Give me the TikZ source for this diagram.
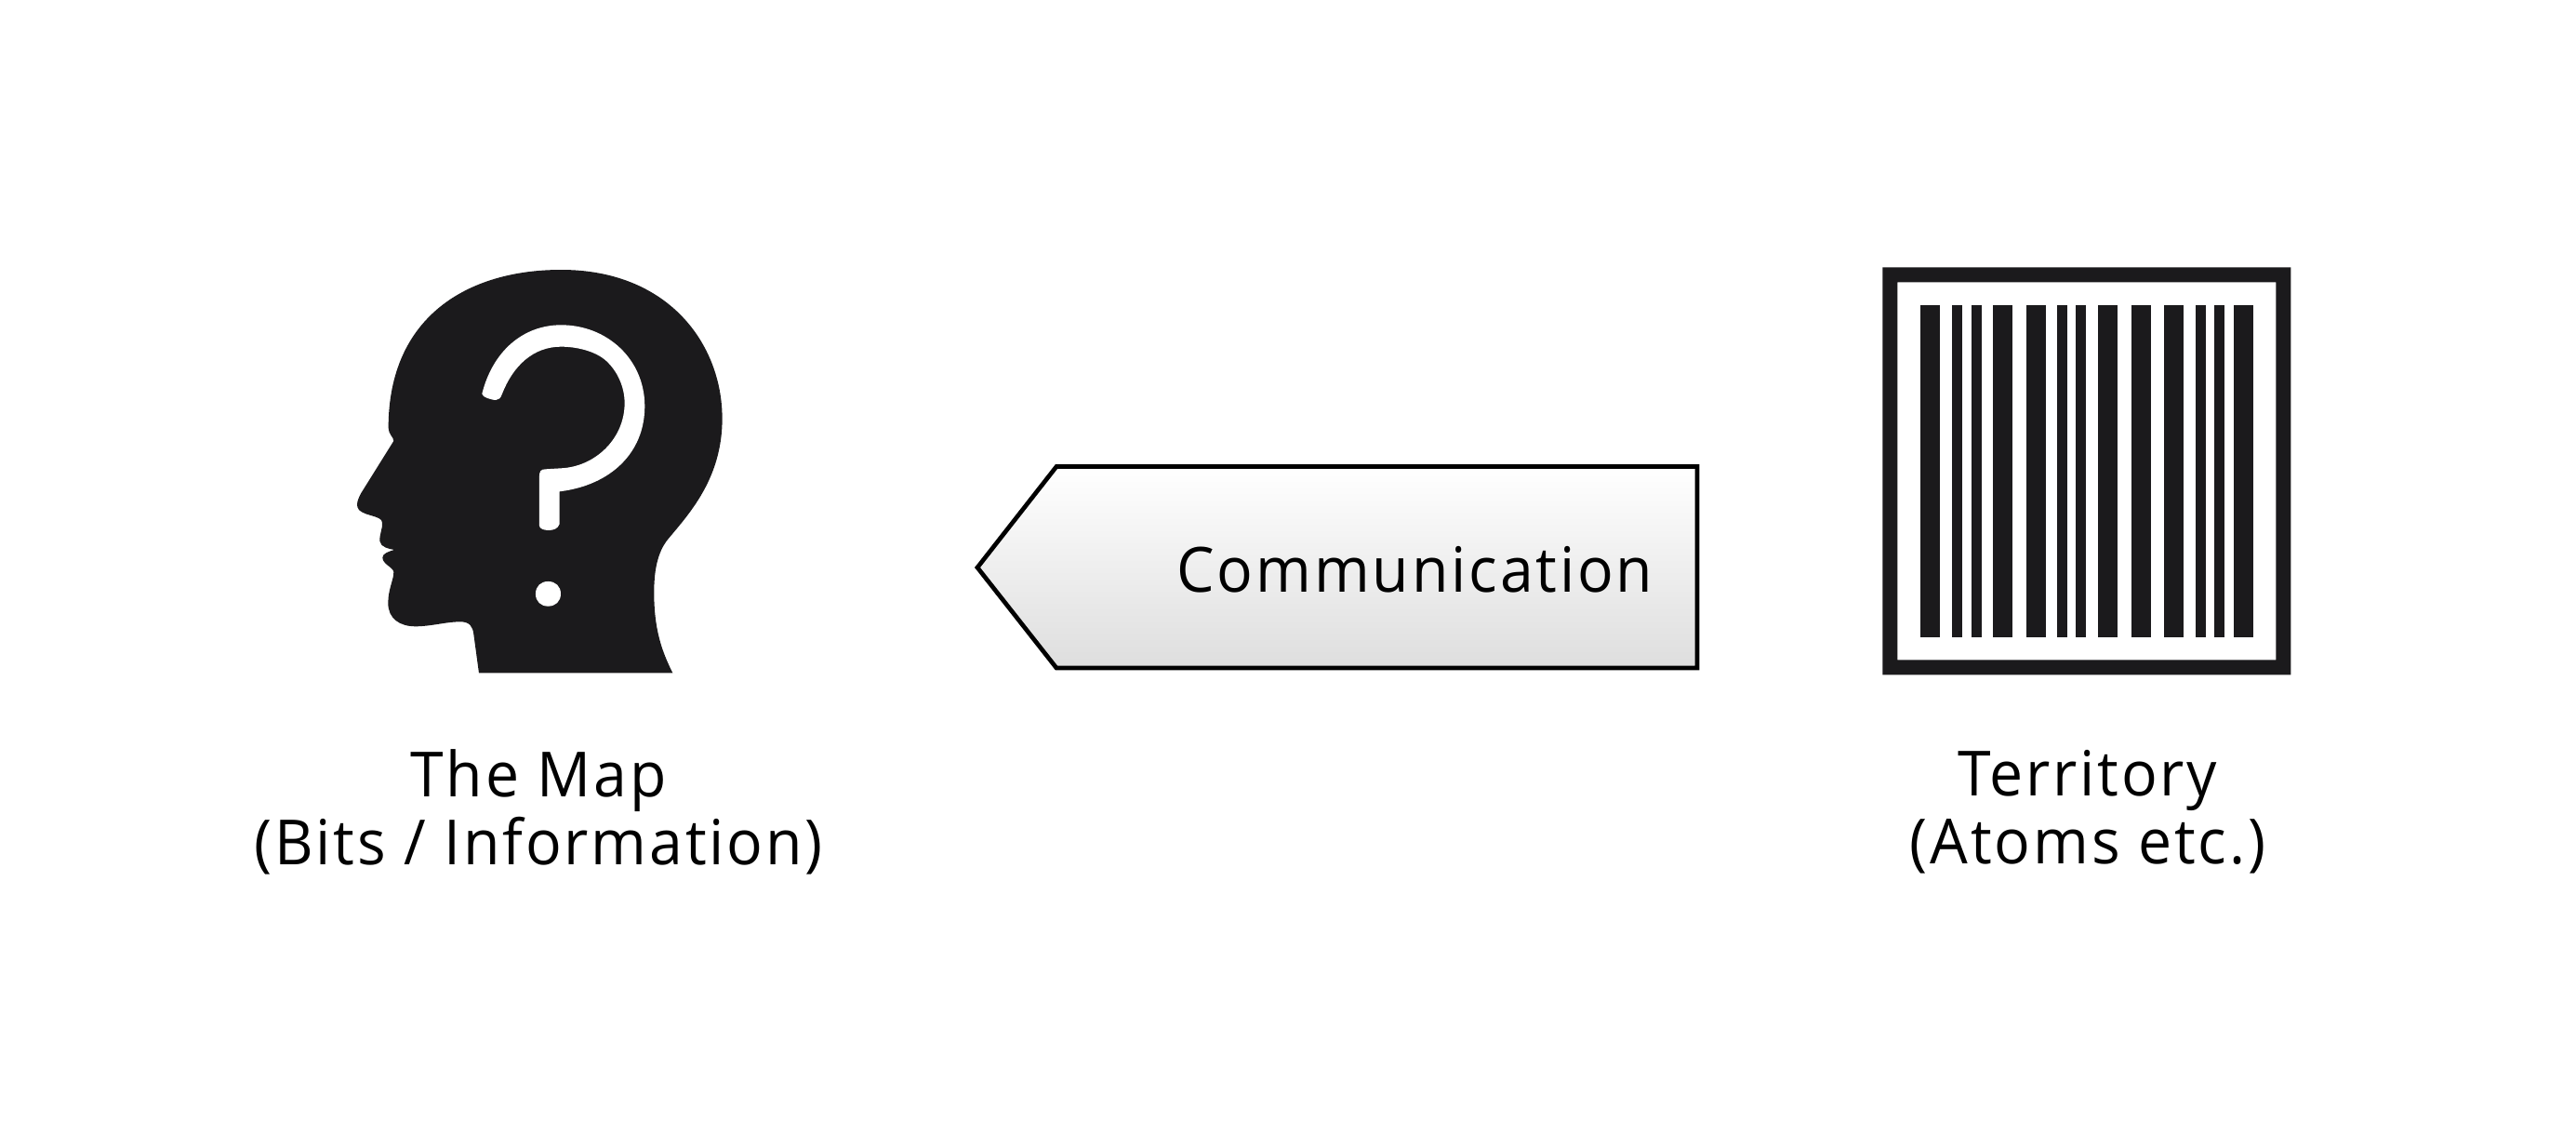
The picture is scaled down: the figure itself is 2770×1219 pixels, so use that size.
\documentclass[tikz,border=0pt]{standalone}
\usepackage{fontspec}
\setmainfont[LetterSpace=4.2,FakeStretch=0.96]{Open Sans}
\definecolor{ink}{HTML}{1B1A1C}
\tikzset{
  x=1pt,y=-1pt,
  label text/.style={inner sep=0pt,align=center,font=\fontsize{67}{73}\selectfont,text=black},
  bar/.style={fill=ink,draw=none},
  signal/.style={draw=black,line width=4.7pt,miter limit=10,top color=white,bottom color=black!13}
}
\begin{document}
\begin{tikzpicture}
\path[use as bounding box,fill=white] (0,0) rectangle (2770,1219);
% head
\begin{scope}[shift={(340,260)},x=0.3333pt,y=-0.3333pt]
\fill[ink] (1150,1390)
 .. controls (1115,1320) and (1090,1250) .. (1090,1130)
 .. controls (1090,1050) and (1105,1000) .. (1130,965)
 .. controls (1195,885) and (1310,770) .. (1310,570)
 .. controls (1310,330) and (1137,90) .. (790,90)
 .. controls (490,90) and (233,240) .. (233,600)
 .. controls (233,620) and (250,630) .. (250,642)
 -- (145,810)
 .. controls (135,830) and (130,840) .. (133,855)
 .. controls (140,885) and (213,880) .. (213,905)
 .. controls (215,925) and (203,945) .. (205,965)
 .. controls (208,985) and (235,990) .. (252,993)
 .. controls (235,998) and (214,1005) .. (214,1018)
 .. controls (214,1040) and (250,1050) .. (250,1065)
 .. controls (250,1090) and (232,1120) .. (232,1165)
 .. controls (232,1215) and (270,1240) .. (320,1240)
 .. controls (370,1240) and (420,1225) .. (465,1225)
 .. controls (495,1225) and (505,1240) .. (508,1265)
 -- (525,1390) -- cycle;
\fill[white] (535,490)
 .. controls (570,350) and (670,268) .. (790,268)
 .. controls (940,268) and (1060,380) .. (1060,530)
 .. controls (1060,680) and (950,785) .. (785,805)
 -- (785,910)
 .. controls (780,925) and (765,930) .. (750,930)
 .. controls (735,930) and (720,925) .. (720,915)
 -- (720,755)
 .. controls (720,740) and (725,733) .. (740,733)
 -- (790,730)
 .. controls (900,725) and (995,635) .. (995,520)
 .. controls (995,465) and (970,415) .. (935,383)
 .. controls (900,352) and (840,338) .. (790,338)
 .. controls (700,338) and (635,400) .. (600,490)
 .. controls (595,503) and (590,510) .. (580,510)
 .. controls (565,510) and (535,500) .. (535,490) -- cycle;
\fill[white] (708,1135) .. controls (708,1110) and (725,1095) .. (748,1095)
 .. controls (772,1095) and (789,1110) .. (789,1135)
 .. controls (789,1160) and (772,1175) .. (748,1175)
 .. controls (725,1175) and (708,1160) .. (708,1135) -- cycle;
\end{scope}
% barcode
\fill[ink,even odd rule] (2024.3,287.3) rectangle (2463.3,725.3) (2040.3,303.3) rectangle (2447.3,709.3);
\begin{scope}[shift={(2000,270)},x=0.3333pt,y=-0.3333pt]
\foreach \a/\b in {195/257,298/329,361/392,429/491,537/600,636/668,697/728,768/830,876/938,981/1043,1083/1115,1144/1175,1206/1268}
  \fill[bar] (\a,175) rectangle (\b,1246);
\end{scope}
% arrow box
\path[signal] (1051,610) -- (1136,501.5) -- (1825,501.5) -- (1825,718) -- (1136,718) -- cycle;
% labels
\node[label text,anchor=base] (comm) at (1521.5,636) {Communication};
\node[label text,anchor=center] (map) at (579,873) {The Map\\(Bits / Information)};
\node[label text,anchor=center] (terr) at (2245,873) {Territory\\(Atoms etc.)};
\end{tikzpicture}
\end{document}
